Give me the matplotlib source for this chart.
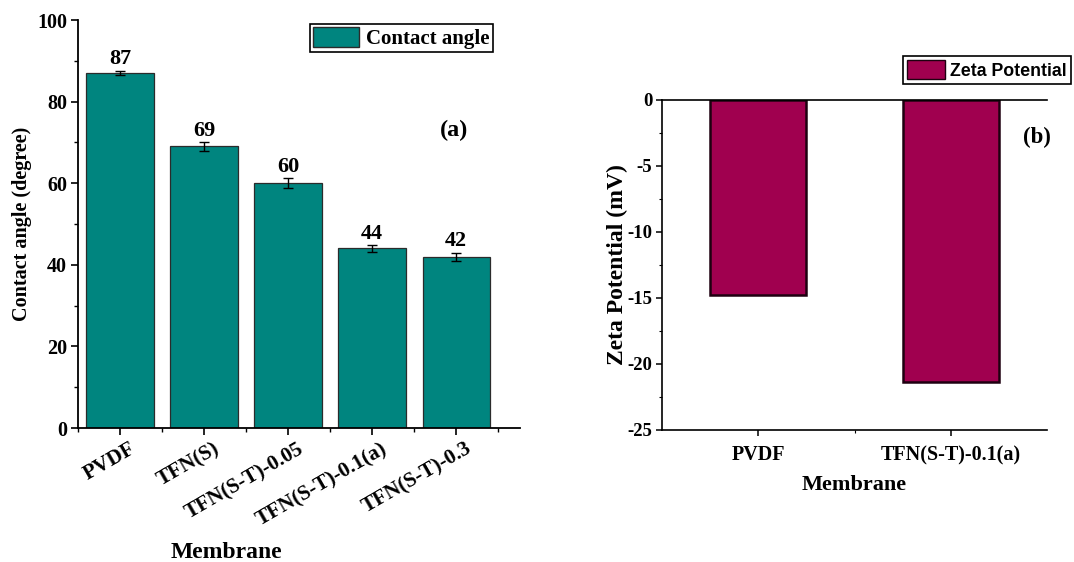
import matplotlib
matplotlib.use("Agg")
import matplotlib.pyplot as plt
import matplotlib.transforms as mtransforms
from matplotlib.patches import Patch
import numpy as np

# ---- data ----
ca_membranes = ["PVDF", "TFN(S)", "TFN(S-T)-0.05", "TFN(S-T)-0.1(a)", "TFN(S-T)-0.3"]
ca_values = [87, 69, 60, 44, 42]
ca_errors = [0.5, 1.0, 1.2, 0.8, 1.0]

zp_membranes = ["PVDF", "TFN(S-T)-0.1(a)"]
zp_values = [-14.8, -21.4]

SERIF = ["Liberation Serif", "DejaVu Serif"]
SANS = ["Liberation Sans", "DejaVu Sans"]
plt.rcParams['font.family'] = SERIF
plt.rcParams['font.weight'] = 'bold'
plt.rcParams['axes.unicode_minus'] = False

fig = plt.figure(figsize=(10.74, 5.62), dpi=100)

# ---------- (a) Contact angle ----------
ax1 = fig.add_axes([78/1074, 1-428/562, 442/1074, 408/562])
x1 = np.arange(len(ca_membranes))
ax1.bar(x1, ca_values, width=0.8, color="#00857F", edgecolor="#2b2b2b", linewidth=0.9,
        yerr=ca_errors, error_kw=dict(ecolor="black", elinewidth=1.0, capsize=3.5, capthick=1.0))
for xi, v, e in zip(x1, ca_values, ca_errors):
    ax1.text(xi, v + e + 0.4, f"{v}", ha="center", va="bottom", fontsize=16, fontweight="bold")
ax1.set_xlim(-0.5, 4.76)
ax1.set_ylim(0, 100)
ax1.set_yticks(np.arange(0, 101, 20))
ax1.set_yticks(np.arange(10, 100, 20), minor=True)
ax1.set_xticks(x1)
ax1.set_xticks(np.arange(-0.5, 4.6, 1.0), minor=True)
ax1.spines['top'].set_visible(False)
ax1.spines['right'].set_visible(False)
for s in ['left', 'bottom']:
    ax1.spines[s].set_linewidth(1.3)
ax1.tick_params(axis='both', which='major', direction='out', length=5, width=1.2, labelsize=14.5, pad=3)
ax1.tick_params(axis='both', which='minor', direction='out', length=3, width=1.0)
offset = mtransforms.ScaledTranslation(19/100, 0/100, fig.dpi_scale_trans)
ax1.set_xticklabels(ca_membranes, rotation=30, ha="right", va="top", fontsize=15.3, fontweight="bold")
for lab in ax1.get_xticklabels():
    lab.set_transform(lab.get_transform() + offset)
for lab in ax1.get_yticklabels():
    lab.set_fontweight("bold")
ax1.set_ylabel("Contact angle (degree)", fontsize=14.5, fontweight="bold")
ax1.yaxis.set_label_coords(-0.104, 0.5)
ax1.text(0.335, -0.306, "Membrane", transform=ax1.transAxes, ha="center", va="center",
         fontsize=17, fontweight="bold")
ax1.text(3.98, 73, "(a)", ha="center", va="center", fontsize=17.5, fontweight="bold")
leg1 = ax1.legend(handles=[Patch(facecolor="#00857F", edgecolor="#2b2b2b", label="Contact angle")],
                  loc="upper left", bbox_to_anchor=(310/1074, 1-24/562), bbox_transform=fig.transFigure,
                  borderaxespad=0, fancybox=False, edgecolor="black", framealpha=1,
                  prop=dict(family=SERIF, weight="bold", size=15), handlelength=2.2, handleheight=1.1,
                  handletextpad=0.35, borderpad=0.15)
leg1.get_frame().set_linewidth(1.2)

# ---------- (b) Zeta potential ----------
ax2 = fig.add_axes([662/1074, 1-430/562, 385/1074, 330/562])
x2 = np.arange(len(zp_membranes))
ax2.bar(x2, zp_values, width=0.5, color="#A0004F", edgecolor="#1e0010", linewidth=1.8)
ax2.set_xlim(-0.5, 1.5)
ax2.set_ylim(-25, 0)
ax2.set_yticks(np.arange(-25, 1, 5))
ax2.set_yticks(np.arange(-22.5, 0, 5), minor=True)
ax2.set_xticks(x2)
ax2.set_xticks([0.5], minor=True)
ax2.spines['right'].set_visible(False)
for s in ['left', 'bottom', 'top']:
    ax2.spines[s].set_linewidth(1.2)
ax2.tick_params(axis='both', which='major', direction='out', length=4, width=1.1, labelsize=13.5, pad=3)
ax2.tick_params(axis='both', which='minor', direction='out', length=2.5, width=0.8)
ax2.tick_params(axis='x', which='major', labelsize=14.5, pad=7)
ax2.set_xticklabels(zp_membranes, fontweight="bold")
for lab in ax2.get_yticklabels():
    lab.set_fontweight("bold")
ax2.set_ylabel("Zeta Potential (mV)", fontsize=17, fontweight="bold")
ax2.yaxis.set_label_coords(-0.088, 0.5)
ax2.text(0.499, -0.167, "Membrane", transform=ax2.transAxes, ha="center", va="center",
         fontsize=16, fontweight="bold")
ax2.text(1.447, -2.8, "(b)", ha="center", va="center", fontsize=16.5, fontweight="bold")
leg2 = ax2.legend(handles=[Patch(facecolor="#A0004F", edgecolor="#1e0010", label="Zeta Potential")],
                  loc="upper left", bbox_to_anchor=(903/1074, 1-56/562), bbox_transform=fig.transFigure,
                  borderaxespad=0, fancybox=False, edgecolor="black", framealpha=1,
                  prop=dict(family=SANS, weight="bold", size=12.8), handlelength=2.1, handleheight=1.25,
                  handletextpad=0.3, borderpad=0.25)
leg2.get_frame().set_linewidth(1.2)

fig.savefig("out.png", dpi=100)
